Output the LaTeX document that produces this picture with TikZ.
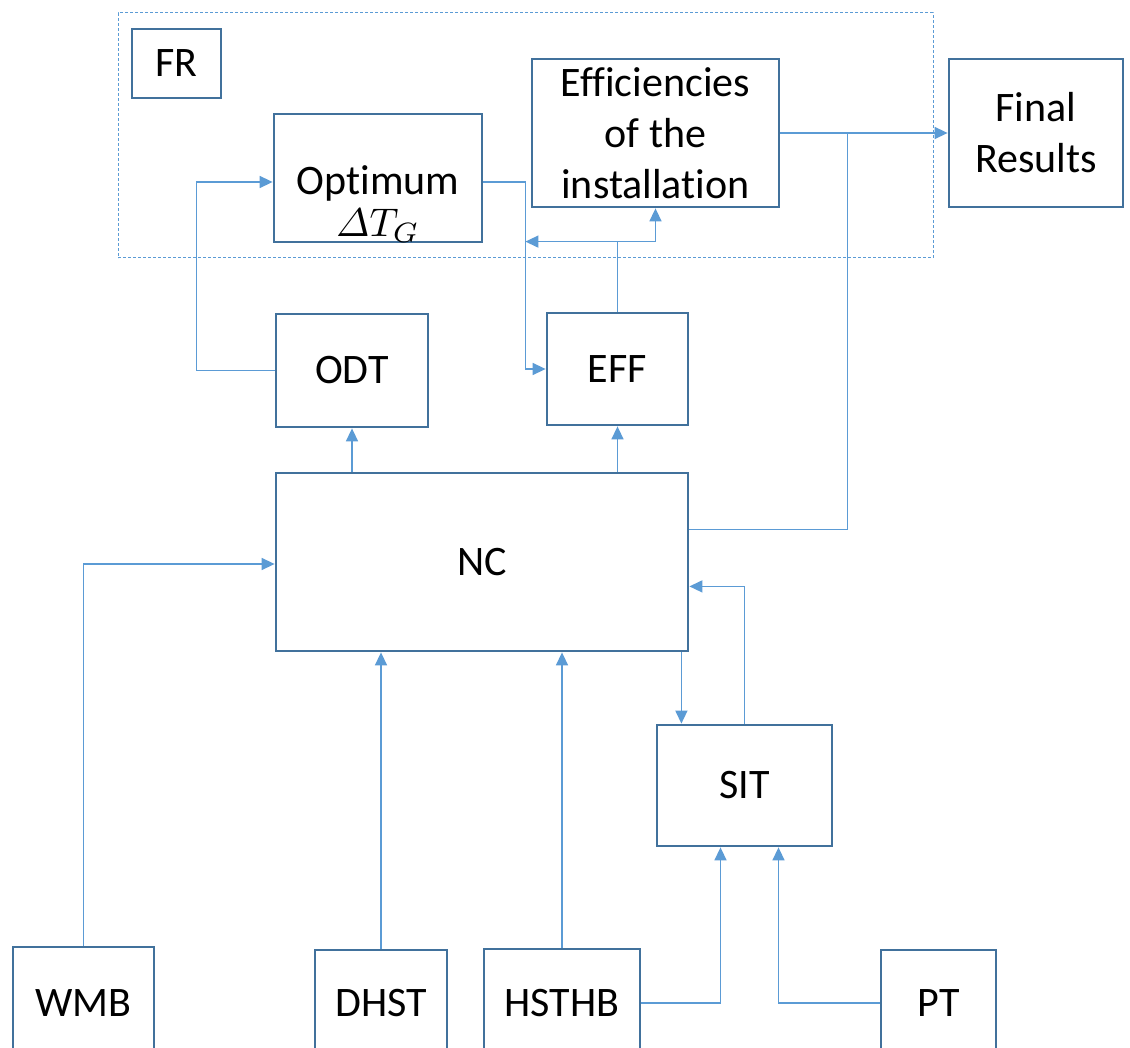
\documentclass[tikz,border=0pt]{standalone}
\usepackage{amsmath}
\usepackage{graphicx}
\usepackage{fontspec}
\setmainfont{Carlito}[Ligatures=NoCommon]
\usetikzlibrary{arrows.meta,calc}
\definecolor{boxc}{HTML}{41719C}
\definecolor{linec}{HTML}{5B9BD5}
\begin{document}
\begin{tikzpicture}[x=1pt,y=-1pt,
  blk/.style={draw=boxc,line width=2.8pt,inner sep=0pt,align=center,text=black,
    font=\fontsize{42}{51}\selectfont},
  txt/.style={inner sep=0pt,align=center,text=black,font=\fontsize{42}{46}\selectfont},
  frame/.style={draw=linec,line width=1pt,dash pattern=on 3pt off 2pt,inner sep=0pt},
  conn/.style={draw=linec,line width=1.5pt},
  arr/.style={conn,-{Triangle[length=13pt,width=12pt]}}]
\useasboundingbox (0,0) rectangle (1130,1048);
\clip (0,0) rectangle (1130,1048);
\fill[white] (0,0) rectangle (1130,1048);

% dashed frame
\node[frame,minimum width=815pt,minimum height=245pt] (frm) at (525.5,135.5) {};

% boxes
\node[blk,minimum width=89pt,minimum height=69pt] (FR) at (176.5,63.5) {FR};
\node[blk,minimum width=208pt,minimum height=128pt] (Opt) at (378,178) {};
\node[txt] (OptT) at (378,204) {Optimum\\[-4pt]\scalebox{4.0}{\fontsize{10}{12}\selectfont$\varDelta T_G$}};
\node[blk,minimum width=247pt,minimum height=148pt] (Eff) at (655.5,133) {Efficiencies\\of the\\installation};
\node[blk,minimum width=174pt,minimum height=148pt] (Final) at (1036,133) {Final\\Results};
\node[blk,minimum width=152pt,minimum height=113pt] (ODT) at (352,370.5) {ODT};
\node[blk,minimum width=141pt,minimum height=112pt] (EFF) at (617.5,369) {EFF};
\node[blk,minimum width=412pt,minimum height=178pt] (NC) at (482,562) {NC};
\node[blk,minimum width=175pt,minimum height=121pt] (SIT) at (744.5,785.5) {SIT};
\node[blk,minimum width=141pt,minimum height=112pt] (WMB) at (83.5,1003) {WMB};
\node[blk,minimum width=132pt,minimum height=106pt] (DHST) at (381,1003) {DHST};
\node[blk,minimum width=156pt,minimum height=108pt] (HSTHB) at (562,1003) {HSTHB};
\node[blk,minimum width=115pt,minimum height=106pt] (PT) at (938.5,1003) {PT};

% connectors
\draw[arr] (ODT.west) -- ++(-78,0) |- ($(Opt.west)+(0,4)$);
\draw[arr] ($(Opt.east)+(0,4)$) -- ++(42,0) coordinate (v2) |- (EFF.west);
\draw[conn] (EFF.north) -- ++(0,-70) coordinate (j1);
\draw[arr] (j1) -- (j1 -| v2);
\draw[arr] (j1) -| (Eff.south);
\draw[arr] (Eff.east) -- (Final.west);
\coordinate (j2) at ($(Eff.east)!0.4!(Final.west)$);
\draw[conn] (j2) |- ($(NC.north east)!0.32!(NC.south east)$);
\draw[arr] (NC.north -| ODT.south) -- (ODT.south);
\draw[arr] (NC.north -| EFF.south) -- (EFF.south);
\draw[arr] (WMB.north) |- ($(NC.west)+(0,2)$);
\draw[arr] (DHST.north) -- (DHST.north |- NC.south);
\draw[arr] (HSTHB.north) -- (HSTHB.north |- NC.south);
\coordinate (n1) at ($(NC.south east)+(-8,0)$);
\draw[arr] (n1) -- (n1 |- SIT.north);
\draw[arr] (SIT.north) |- ($(NC.north east)!0.635!(NC.south east)$);
\draw[arr] (HSTHB.east) -| ($(SIT.south)+(-24,0)$);
\draw[arr] (PT.west) -| ($(SIT.south)+(34,0)$);
\end{tikzpicture}
\end{document}
